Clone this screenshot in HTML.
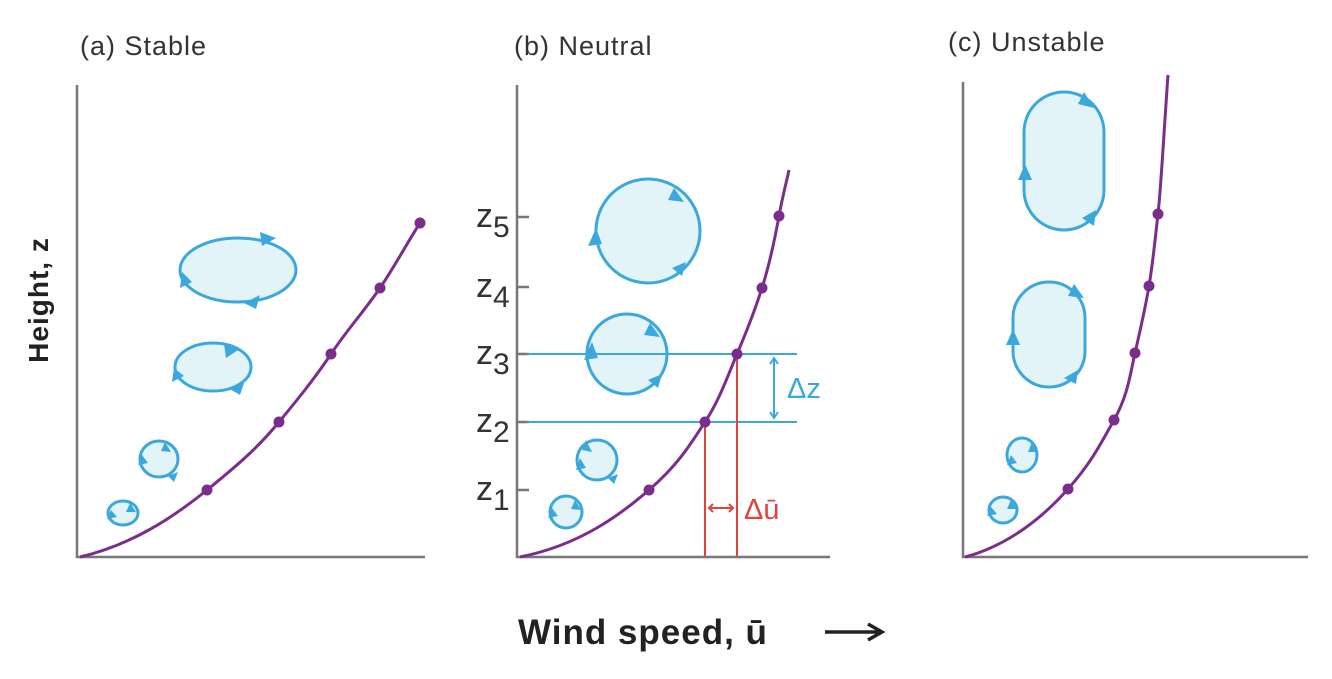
<!DOCTYPE html>
<html><head><style>body{margin:0;background:#fff}</style></head><body>
<svg width="1332" height="674" viewBox="0 0 1332 674" xmlns="http://www.w3.org/2000/svg" font-family="Liberation Sans, sans-serif">
<g fill="#333" font-size="27" letter-spacing="1">
<text x="80" y="55">(a) Stable</text>
<text x="514" y="55">(b) Neutral</text>
<text x="948" y="51">(c) Unstable</text>
</g>
<text transform="translate(48,300) rotate(-90)" text-anchor="middle" font-size="28" font-weight="bold" fill="#222" letter-spacing="1">Height, z</text>
<text x="518" y="644" font-size="35" font-weight="bold" fill="#222" letter-spacing="1">Wind speed, ū</text>
<path d="M825,632H880M868,624l14,8l-14,8" stroke="#222" stroke-width="3.5" fill="none"/>
<g stroke="#777" stroke-width="2.5" fill="none">
<path d="M77,85V557H425"/>
<path d="M517,85V557H830"/>
<path d="M963,82V557H1308"/>
<path d="M517,490h12M517,422h12M517,354h12M517,287h12M517,217h12"/>
</g>
<g fill="#333" font-size="34">
<text x="476" y="500">z<tspan font-size="30" dy="10">1</tspan></text>
<text x="476" y="432">z<tspan font-size="30" dy="10">2</tspan></text>
<text x="476" y="364">z<tspan font-size="30" dy="10">3</tspan></text>
<text x="476" y="297">z<tspan font-size="30" dy="10">4</tspan></text>
<text x="476" y="227">z<tspan font-size="30" dy="10">5</tspan></text>
</g>
<g fill="#e3f4f9" stroke="#3aa8dc" stroke-width="3">
<ellipse cx="238" cy="270" rx="58" ry="32"/>
<ellipse cx="213" cy="367" rx="38" ry="24"/>
<ellipse cx="159" cy="459" rx="19" ry="18"/>
<ellipse cx="123" cy="513" rx="15" ry="12"/>
<circle cx="648" cy="231" r="52"/>
<circle cx="627" cy="354" r="40"/>
<circle cx="597" cy="460" r="20"/>
<circle cx="566" cy="512" r="16"/>
<rect x="1024" y="92" width="80" height="138" rx="40"/>
<rect x="1013" y="282" width="72" height="105" rx="36"/>
<ellipse cx="1022" cy="455" rx="15" ry="17"/>
<ellipse cx="1003" cy="510" rx="14" ry="13"/>
</g>
<g fill="#3aa8dc">
<path d="M260,232l16,6l-14,8z"/><path d="M180,288l2,-16l10,10z"/><path d="M244,303l16,-8l-4,14z"/>
<path d="M224,344l14,6l-12,8z"/><path d="M172,382l2,-14l10,8z"/><path d="M230,389l14,-6l-4,12z"/>
<path d="M674,188l10,14l-16,-2z"/><path d="M588,246l8,-18l6,16z"/><path d="M672,268l14,-6l-4,14z"/>
<path d="M650,323l10,14l-16,-2z"/><path d="M584,360l8,-18l6,16z"/><path d="M648,380l14,-6l-4,14z"/>
<path d="M586,440l6,12l-10,-2z"/><path d="M576,470l4,-12l6,10z"/><path d="M608,478l10,-4l-4,10z"/>
<path d="M575,500l6,10l-10,-1z"/><path d="M548,518l4,-10l6,8z"/>
<path d="M165,442l6,10l-10,-1z"/><path d="M138,465l4,-10l6,8z"/><path d="M168,476l10,-4l-4,10z"/>
<path d="M130,503l6,9l-10,0z"/><path d="M107,519l4,-9l6,7z"/>
<path d="M1084,92l10,16l-16,-4z"/><path d="M1018,180l7,-16l7,16z"/><path d="M1096,210l-2,16l-12,-8z"/>
<path d="M1074,284l10,14l-16,-2z"/><path d="M1006,345l7,-16l7,16z"/><path d="M1078,370l-2,14l-12,-6z"/>
<path d="M1032,442l6,10l-10,0z"/><path d="M1007,465l4,-10l6,8z"/>
<path d="M1011,500l6,9l-10,0z"/><path d="M987,516l4,-9l6,7z"/>
</g>
<g fill="none" stroke="#3aa8dc" stroke-width="2">
<path d="M527,354H797M527,422H797"/>
<path d="M774,360V416M770,364l4,-6l4,6M770,412l4,6l4,-6"/>
</g>
<text x="787" y="398" fill="#3aa8dc" font-size="29">Δz</text>
<g stroke="#e0443a" stroke-width="2" fill="none">
<path d="M705,422V557M737,354V557M709,508H733M713,504l-4,4l4,4M729,504l4,4l-4,4"/>
</g>
<text x="744" y="519" fill="#e0443a" font-size="29">Δū</text>
<g stroke="#7b2d8b" stroke-width="3" fill="none">
<path d="M80,557C130,545 170,520 207,490S260,445 279,422S315,378 331,354S365,310 380,288S410,238 420,223"/>
<path d="M520,557C580,545 620,515 649,490S690,445 705,422S728,375 737,354S755,310 762,288S775,238 779,216S787,180 789,170"/>
<path d="M965,557C1010,545 1045,515 1068,489S1100,445 1114,420S1130,375 1135,353S1145,310 1149,286S1155,240 1158,214S1164,130 1168,75"/>
</g>
<g fill="#7b2d8b">
<circle cx="207" cy="490" r="5.5"/><circle cx="279" cy="422" r="5.5"/><circle cx="331" cy="354" r="5.5"/><circle cx="380" cy="288" r="5.5"/><circle cx="420" cy="223" r="5.5"/>
<circle cx="649" cy="490" r="5.5"/><circle cx="705" cy="422" r="5.5"/><circle cx="737" cy="354" r="5.5"/><circle cx="762" cy="288" r="5.5"/><circle cx="779" cy="216" r="5.5"/>
<circle cx="1068" cy="489" r="5.5"/><circle cx="1114" cy="420" r="5.5"/><circle cx="1135" cy="353" r="5.5"/><circle cx="1149" cy="286" r="5.5"/><circle cx="1158" cy="214" r="5.5"/>
</g>
</svg>
</body></html>
